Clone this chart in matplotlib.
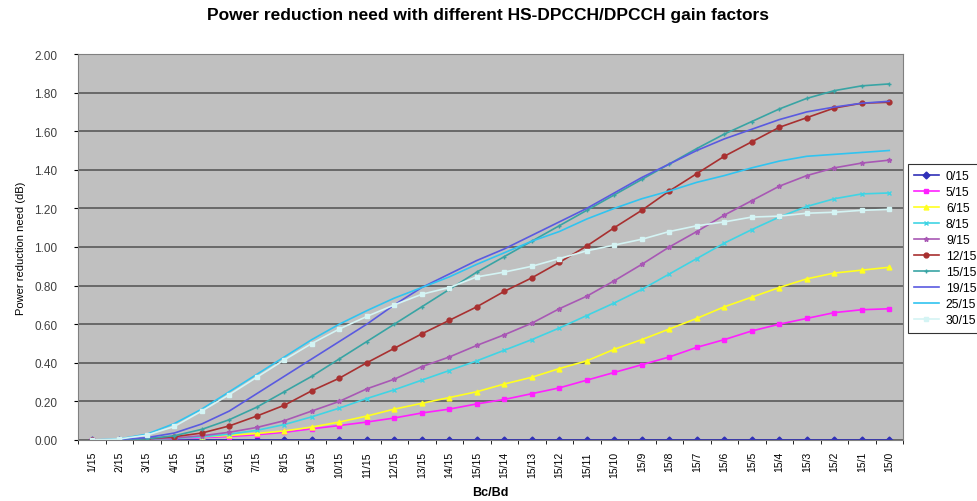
import numpy as np
import matplotlib
matplotlib.use('Agg')
import matplotlib.pyplot as plt

plt.rcParams['font.family'] = ['Liberation Sans', 'DejaVu Sans']

# x categories (Bc/Bd)
categories = ['1/15', '2/15', '3/15', '4/15', '5/15', '6/15', '7/15', '8/15', '9/15', '10/15',
              '11/15', '12/15', '13/15', '14/15', '15/15', '15/14', '15/13', '15/12', '15/11',
              '15/10', '15/9', '15/8', '15/7', '15/6', '15/5', '15/4', '15/3', '15/2', '15/1', '15/0']

# series names (HS-DPCCH/DPCCH gain factor)
series_names = ['0/15', '5/15', '6/15', '8/15', '9/15', '12/15', '15/15', '19/15', '25/15', '30/15']

s_0 = [0.0] * 30
s_5 = [0, 0.001, 0.003, 0.007, 0.012, 0.018, 0.027, 0.04, 0.058, 0.075,
       0.093, 0.114, 0.14, 0.16, 0.187, 0.21, 0.24, 0.27, 0.31, 0.35,
       0.39, 0.43, 0.48, 0.52, 0.565, 0.60, 0.63, 0.66, 0.675, 0.68]
s_6 = [0, 0.002, 0.005, 0.01, 0.016, 0.024, 0.034, 0.047, 0.067, 0.093,
       0.124, 0.16, 0.19, 0.22, 0.25, 0.29, 0.325, 0.37, 0.41, 0.47,
       0.52, 0.575, 0.63, 0.69, 0.74, 0.79, 0.835, 0.865, 0.88, 0.895]
s_8 = [0, 0.001, 0.003, 0.008, 0.016, 0.03, 0.05, 0.08, 0.12, 0.165,
       0.215, 0.26, 0.31, 0.36, 0.41, 0.465, 0.52, 0.58, 0.645, 0.71,
       0.78, 0.86, 0.94, 1.02, 1.09, 1.155, 1.21, 1.25, 1.275, 1.28]
s_9 = [0, 0.001, 0.004, 0.01, 0.022, 0.04, 0.065, 0.10, 0.15, 0.20,
       0.265, 0.315, 0.38, 0.43, 0.49, 0.545, 0.605, 0.68, 0.745, 0.825,
       0.91, 1.0, 1.08, 1.165, 1.24, 1.315, 1.37, 1.41, 1.435, 1.45]
s_12 = [0, 0.001, 0.006, 0.017, 0.036, 0.073, 0.124, 0.18, 0.255, 0.32,
        0.40, 0.475, 0.55, 0.62, 0.69, 0.77, 0.84, 0.92, 1.005, 1.10,
        1.19, 1.29, 1.38, 1.47, 1.545, 1.62, 1.67, 1.72, 1.745, 1.75]
s_15 = [0, 0.001, 0.006, 0.022, 0.055, 0.105, 0.17, 0.25, 0.33, 0.42,
        0.51, 0.60, 0.69, 0.78, 0.87, 0.95, 1.03, 1.11, 1.19, 1.27,
        1.35, 1.43, 1.51, 1.585, 1.65, 1.715, 1.77, 1.81, 1.835, 1.845]
s_19 = [0, 0.003, 0.012, 0.036, 0.083, 0.15, 0.24, 0.33, 0.42, 0.51,
        0.60, 0.70, 0.79, 0.86, 0.93, 0.99, 1.06, 1.13, 1.20, 1.28,
        1.36, 1.43, 1.50, 1.56, 1.61, 1.66, 1.70, 1.725, 1.745, 1.755]
s_25 = [0, 0.005, 0.03, 0.085, 0.16, 0.25, 0.34, 0.43, 0.52, 0.60,
        0.67, 0.735, 0.79, 0.845, 0.91, 0.97, 1.03, 1.08, 1.145, 1.20,
        1.25, 1.29, 1.335, 1.37, 1.41, 1.445, 1.47, 1.48, 1.49, 1.50]
s_30 = [0, 0.005, 0.025, 0.07, 0.15, 0.235, 0.325, 0.415, 0.50, 0.575,
        0.64, 0.70, 0.755, 0.79, 0.845, 0.87, 0.90, 0.94, 0.98, 1.01,
        1.04, 1.08, 1.11, 1.13, 1.155, 1.16, 1.175, 1.18, 1.19, 1.195]

all_series = [s_0, s_5, s_6, s_8, s_9, s_12, s_15, s_19, s_25, s_30]
colors = ['#3030b8', '#ff20ff', '#ffff20', '#40d4e4', '#a858b4',
          '#a83030', '#38a4a4', '#5a5ae0', '#30c4f0', '#d4f4f4']
markers = ['D', 's', '^', 'x', '*', 'o', '+', None, None, 's']

fig = plt.figure(figsize=(9.77, 5.02), dpi=100)
ax = fig.add_axes([78/977, 1-441/502, 825/977, 386/502])
ax.set_facecolor('#c0c0c0')

x = np.arange(len(categories))
for name, vals, c, m in zip(series_names, all_series, colors, markers):
    ax.plot(x, vals, color=c, marker=m, markersize=3.5, linewidth=1.2, label=name)

ax.set_xlim(-0.5, len(categories) - 0.5)
ax.set_ylim(0, 2.0)
ax.set_yticks(np.arange(0, 2.01, 0.2))
ax.set_yticklabels(['%.2f' % v for v in np.arange(0, 2.01, 0.2)], fontsize=8.5, color='#404040')
ax.yaxis.grid(True, color='#505050', linewidth=1.1)
ax.set_axisbelow(True)

ax.set_xticks(x)
ax.set_xticklabels(categories, rotation=90, fontsize=7.5)
ax.set_xticks(np.arange(-0.5, len(categories), 1), minor=True)
ax.tick_params(axis='x', which='major', length=0, pad=8)
ax.tick_params(axis='x', which='minor', length=3)
ax.tick_params(axis='y', length=3, pad=12)
for sp in ax.spines.values():
    sp.set_color('#808080')
    sp.set_linewidth(0.8)

ax.set_ylabel('Power reduction need (dB)', fontsize=8, labelpad=6)
ax.set_xlabel('Bc/Bd', fontsize=9, fontweight='bold', labelpad=6)
fig.suptitle('Power reduction need with different HS-DPCCH/DPCCH gain factors',
             fontsize=12.5, fontweight='bold', x=488/977, y=1-8/502, va='top')

leg = fig.legend(loc='upper left', bbox_to_anchor=(908/977, 1-165/502), fontsize=8.8,
                 frameon=True, fancybox=False, edgecolor='black', borderaxespad=0,
                 handlelength=2.0, handletextpad=0.6, labelspacing=0.33,
                 borderpad=0.5)
leg.get_frame().set_linewidth(0.8)

fig.savefig('out.png', dpi=100)
